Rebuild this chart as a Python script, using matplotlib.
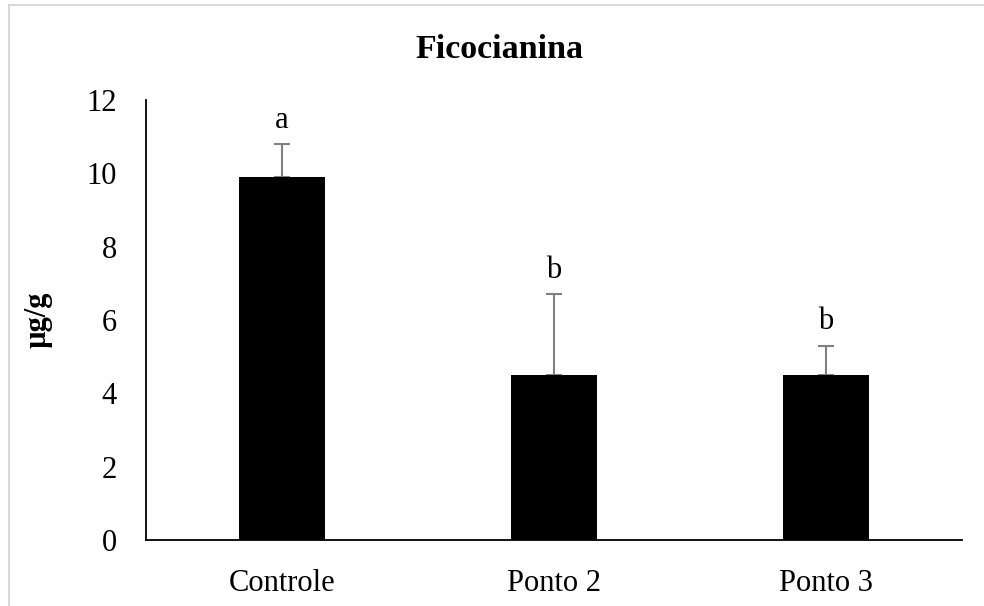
import matplotlib.pyplot as plt
from matplotlib.patches import Rectangle

categorias = ["Controle", "Ponto 2", "Ponto 3"]
medias = [9.9, 4.5, 4.5]
desvios = [0.9, 2.2, 0.8]
letras = ["a", "b", "b"]

plt.rcParams['font.family'] = ['Liberation Serif', 'DejaVu Serif']

fig = plt.figure(figsize=(9.84, 6.06), dpi=100)
ax = fig.add_axes([146/984, 1 - 540/606, (962-146)/984, 440/606])

# moldura cinza do gráfico
fig.patches.append(Rectangle((9/984, -0.1), 1.1, 1 - 5/606 + 0.1, transform=fig.transFigure,
                             fill=False, edgecolor='#d9d9d9', linewidth=1.5))

x = list(range(len(categorias)))
ax.bar(x, medias, width=0.316, color='black', zorder=3)
# só a barra de erro superior fica visível, a parte de baixo fica atrás da barra
ax.errorbar(x, medias, yerr=[[0]*len(desvios), desvios], fmt='none', ecolor='#808080',
            elinewidth=1.5, capsize=6, capthick=1.5, zorder=2)
for i in x:
    ax.text(i, medias[i] + desvios[i] + 0.45, letras[i], ha='center', va='baseline', fontsize=22)

ax.set_xlim(-0.5, 2.5)
ax.set_ylim(0, 12)
ax.set_yticks(range(0, 13, 2))
ax.set_xticks(x)
ax.set_xticklabels(categorias)
ax.tick_params(axis='both', length=0, labelsize=22)
ax.tick_params(axis='x', pad=21)
ax.tick_params(axis='y', pad=21)
for lado in ['top', 'right']:
    ax.spines[lado].set_visible(False)
ax.spines['left'].set_linewidth(1.3)
ax.spines['bottom'].set_linewidth(1.3)

ax.set_ylabel("µg/g", fontsize=22, fontweight='bold')
ax.yaxis.set_label_coords(-0.115, 0.5)
fig.text(500/984, 1 - 50/606, "Ficocianina", ha='center', va='center', fontsize=24.5, fontweight='bold')

fig.savefig("out.png", dpi=100)
